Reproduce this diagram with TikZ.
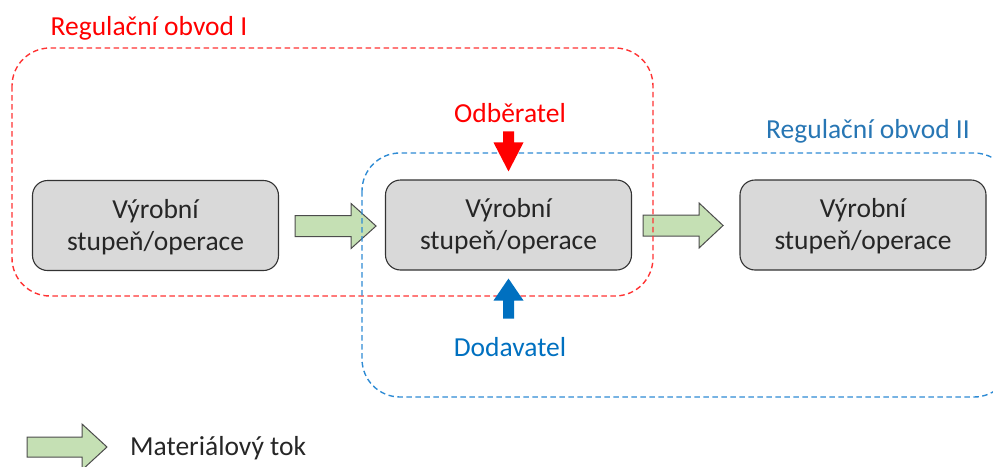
\documentclass[tikz,border=0pt]{standalone}
\usepackage{fontspec}
\setmainfont{Carlito}
\usetikzlibrary{calc}
\begin{document}
\begin{tikzpicture}[x=1pt,y=-1pt,
  every node/.style={font=\fontsize{27.5}{31}\selectfont},
  stage/.style={draw=black!80, line width=1.1pt, fill=black!15, rounded corners=15pt,
    minimum width=246pt, minimum height=90pt, align=center, text=black!85, inner sep=0pt,
    font=\fontsize{27.5}{32}\selectfont},
  loopline/.style={line width=1.4pt, dash pattern=on 5.5pt off 3.5pt, rounded corners=38pt},
  flow/.style={draw=black!70, line width=1pt, fill=greenfill, line join=miter},
  lbl/.style={inner sep=0pt, anchor=center}
]
\definecolor{greenfill}{HTML}{C5E0B4}
\definecolor{loopr}{HTML}{FF3333}
\definecolor{loopb}{HTML}{2E8BD4}
\definecolor{custred}{HTML}{FF0000}
\definecolor{custblue}{HTML}{0070C0}
\useasboundingbox (0,0) rectangle (993,466);
\clip (0,0) rectangle (993,466);

% production stages
\node[stage] (s1) at (155.5,225.5) {\rule{0pt}{22pt}Výrobní\\stupeň/operace};
\node[stage] (s2) at (508.5,225) {\rule{0pt}{22pt}Výrobní\\stupeň/operace};
\node[stage] (s3) at (863,225) {\rule{0pt}{22pt}Výrobní\\stupeň/operace};

% material flow arrows between stages
\draw[flow] ($(s1.east)+(16,-10)$) -- ++(56,0) -- ++(0,-12) -- ++(25,22.5)
  -- ++(-25,22.5) -- ++(0,-12) -- ++(-56,0) -- cycle;
\draw[flow] ($(s2.east)+(11,-10)$) -- ++(56,0) -- ++(0,-12) -- ++(24,22.5)
  -- ++(-24,22.5) -- ++(0,-12) -- ++(-56,0) -- cycle;

% control loops
\draw[loopline, draw=loopr] (12,48) rectangle (653,296);
\draw[loopline, draw=loopb] (362,153) rectangle (1012,397);

\node[lbl, text=custred] (l1) at (149,28) {Regulační obvod I};
\node[lbl, text=loopb!85!black] (l2) at (868,131) {Regulační obvod II};

% customer and supplier arrows
\node[lbl, text=custred] (cust) at (510,113) {Odběratel};
\node[lbl, text=custblue] (supp) at (510,347) {Dodavatel};
\fill[custred] ($(s2.north)+(-5.5,-48)$) -- ++(11,0) -- ++(0,11) -- ++(9.5,0)
  -- ($(s2.north)+(0,-8)$) -- ++(-15,-29) -- ++(9.5,0) -- cycle;
\fill[custblue] ($(s2.south)+(-5.5,48)$) -- ++(11,0) -- ++(0,-18) -- ++(9.5,0)
  -- ($(s2.south)+(0,8)$) -- ++(-15,22) -- ++(9.5,0) -- cycle;

% legend
\draw[flow] (27,437) -- ++(55,0) -- ++(0,-13) -- ++(25,23) -- ++(-25,23) -- ++(0,-13)
  -- ++(-55,0) -- cycle;
\node[anchor=west, inner sep=0pt, text=black!85] (leg) at (130,448) {Materiálový tok};
\end{tikzpicture}
\end{document}
